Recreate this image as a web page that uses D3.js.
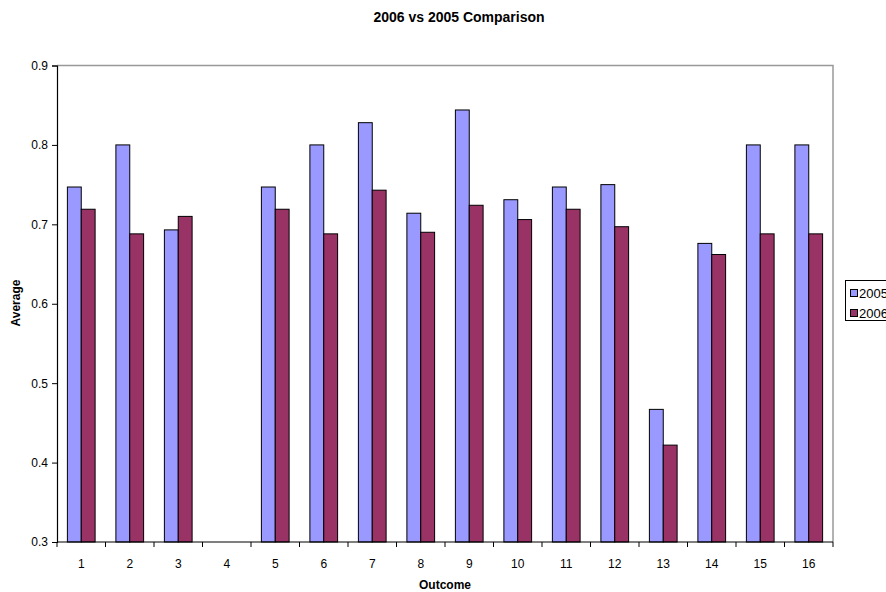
<!DOCTYPE html>
<html>
<head>
<meta charset="utf-8">
<script src="https://cdn.jsdelivr.net/npm/d3@7"></script>
<style>
  html, body { margin: 0; padding: 0; background: #fff; overflow: hidden; }
  svg { display: block; font-family: "Liberation Sans", Arial, sans-serif; }
</style>
</head>
<body>
<svg id="chart" width="886" height="592"></svg>
<script>
// Outcome categories and yearly averages
const outcomes = ["1","2","3","4","5","6","7","8","9","10","11","12","13","14","15","16"];
const series = ["2005", "2006"];
const values2005 = [0.747, 0.800, 0.693, null, 0.747, 0.800, 0.828, 0.714, 0.844, 0.731, 0.747, 0.750, 0.467, 0.676, 0.800, 0.800];
const values2006 = [0.719, 0.688, 0.710, null, 0.719, 0.688, 0.743, 0.690, 0.724, 0.706, 0.719, 0.697, 0.422, 0.662, 0.688, 0.688];
const yTicks = [0.3, 0.4, 0.5, 0.6, 0.7, 0.8, 0.9];
const colors = { "2005": "#9999ff", "2006": "#993366" };

const svg = d3.select("#chart");
const plot = { left: 57, right: 833, top: 65.5, bottom: 542 };

const x = d3.scaleBand().domain(outcomes).range([plot.left, plot.right]).padding(0);
// two bars per category with a 150% gap width shared on both sides
const unit = x.bandwidth() / 3.5;
const xs = d3.scaleBand().domain(series).range([0.75 * unit, 2.75 * unit]).padding(0);
const y = d3.scaleLinear().domain([0.3, 0.9]).range([plot.bottom, plot.top]);

// plot frame (top and right)
svg.append("path")
  .attr("d", `M${plot.left},${plot.top}H${plot.right}V${plot.bottom}`)
  .attr("fill", "none").attr("stroke", "#999").attr("stroke-width", 1.5);

// bars
const rows = outcomes.map((o, i) => ({ o, v: { "2005": values2005[i], "2006": values2006[i] } }));
const groups = svg.append("g").selectAll("g").data(rows).join("g")
  .attr("transform", d => `translate(${x(d.o)},0)`);
groups.selectAll("rect")
  .data(d => series.filter(s => d.v[s] != null).map(s => ({ s, v: d.v[s] })))
  .join("rect")
  .attr("x", d => xs(d.s))
  .attr("width", xs.bandwidth())
  .attr("y", d => y(d.v))
  .attr("height", d => y(0.3) - y(d.v))
  .attr("fill", d => colors[d.s])
  .attr("stroke", "#000").attr("stroke-width", 1);

// y axis
const yAxis = svg.append("g").attr("transform", `translate(${plot.left},0)`)
  .call(d3.axisLeft(y).tickValues(yTicks).tickFormat(d3.format(".1f")).tickSize(5).tickPadding(4));
yAxis.select(".domain").attr("stroke", "#000").attr("stroke-width", 1.2);
yAxis.selectAll("text").attr("font-size", 12).attr("fill", "#000").attr("font-family", "Liberation Sans, Arial, sans-serif");

// x axis with ticks between categories
const xAxisG = svg.append("g").attr("transform", `translate(0,${plot.bottom})`);
xAxisG.append("line").attr("x1", plot.left).attr("x2", plot.right).attr("stroke", "#000").attr("stroke-width", 1.2);
const bounds = outcomes.map(o => x(o)).concat([plot.right]);
xAxisG.selectAll("line.tk").data(bounds).join("line").attr("class", "tk")
  .attr("x1", d => d).attr("x2", d => d).attr("y1", 0).attr("y2", 5).attr("stroke", "#000");
xAxisG.selectAll("text").data(outcomes).join("text")
  .attr("x", d => x(d) + x.bandwidth() / 2).attr("y", 26)
  .attr("text-anchor", "middle").attr("font-size", 12).text(d => d);

// titles
svg.append("text").attr("x", 459).attr("y", 22).attr("text-anchor", "middle")
  .attr("font-size", 14).attr("font-weight", "bold").text("2006 vs 2005 Comparison");
svg.append("text").attr("x", 445).attr("y", 589).attr("text-anchor", "middle")
  .attr("font-size", 12).attr("font-weight", "bold").text("Outcome");
svg.append("text").attr("transform", "translate(20,303) rotate(-90)").attr("text-anchor", "middle")
  .attr("font-size", 12).attr("font-weight", "bold").text("Average");

// legend (runs past the right edge of the chart)
const lg = svg.append("g").attr("transform", "translate(845,280)");
lg.append("rect").attr("x", 0.5).attr("y", 0.5).attr("width", 60).attr("height", 40)
  .attr("fill", "#fff").attr("stroke", "#000");
series.forEach((s, i) => {
  lg.append("rect").attr("x", 5.5).attr("y", 9.5 + i * 20).attr("width", 7).attr("height", 7)
    .attr("fill", colors[s]).attr("stroke", "#000");
  lg.append("text").attr("x", 14).attr("y", 17.5 + i * 20).attr("font-size", 13).text(s);
});
</script>
</body>
</html>
